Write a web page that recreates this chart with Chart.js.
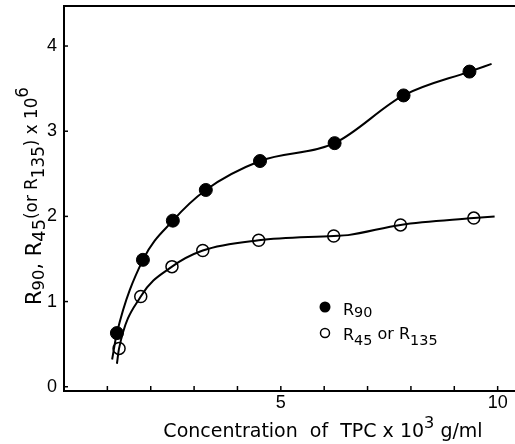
<!DOCTYPE html>
<html>
<head>
<meta charset="utf-8">
<script src="https://cdn.jsdelivr.net/npm/chart.js@4.4.1/dist/chart.umd.min.js"></script>
<style>
  html, body { margin: 0; padding: 0; background: #fff; }
  #wrap { width: 515px; height: 444px; }
</style>
</head>
<body>
<div id="wrap"><canvas id="c" width="515" height="444"></canvas></div>
<script>
// measured points
const r90X = [1.22, 1.82, 2.51, 3.27, 4.52, 6.24, 7.83, 9.35];
const r90Y = [0.63, 1.49, 1.95, 2.31, 2.65, 2.86, 3.42, 3.70];
const r45X = [1.27, 1.77, 2.49, 3.20, 4.49, 6.22, 7.76, 9.45];
const r45Y = [0.45, 1.06, 1.41, 1.60, 1.72, 1.77, 1.90, 1.98];

// hand-drawn smooth curves
const r90CurveX = [1.11, 1.22, 1.82, 2.51, 3.27, 4.52, 6.24, 7.83, 9.35, 9.86];
const r90CurveY = [0.32, 0.63, 1.49, 1.95, 2.31, 2.65, 2.86, 3.42, 3.70, 3.79];
const r45CurveX = [1.22, 1.27, 1.77, 2.49, 3.20, 4.49, 6.22, 6.55, 7.76, 9.45, 9.93];
const r45CurveY = [0.27, 0.45, 1.06, 1.41, 1.60, 1.72, 1.77, 1.78, 1.90, 1.98, 2.00];

const xTicks = [1, 2, 3, 4, 5, 6, 7, 8, 9, 10];
const xTickLabels = ['', '', '', '', '5', '', '', '', '', '10'];
const yTicks = [0, 1, 2, 3, 4];

const pts = (xs, ys) => xs.map((x, i) => ({ x: x, y: ys[i] }));

const FONT = '"Liberation Sans", "DejaVu Sans", sans-serif';
const TFONT = '"DejaVu Sans", sans-serif';

// text runs: k = size factor, d = baseline shift (fraction of size)
function richText(ctx, parts, x, y, size) {
    let cx = x;
    parts.forEach(p => {
        const fs = size * (p.k || 1);
        ctx.font = fs + 'px ' + TFONT;
        ctx.fillText(p.t, cx, y + size * (p.d || 0));
        cx += ctx.measureText(p.t).width;
    });
    return cx - x;
}
function richWidth(ctx, parts, size) {
    let w = 0;
    parts.forEach(p => {
        ctx.font = size * (p.k || 1) + 'px ' + TFONT;
        w += ctx.measureText(p.t).width;
    });
    return w;
}

const yTitle = [
    { t: 'R' }, { t: '90', k: 0.78, d: 0.12 }, { t: ', R' }, { t: '45', k: 0.85, d: 0.2 },
    { t: '(or R', k: 0.8, d: -0.2 }, { t: '135', k: 0.8, d: 0.12 }, { t: ') x 10', k: 0.8, d: -0.2 },
    { t: '6', k: 0.8, d: -0.6 }
];
const xTitle = [
    { t: 'Concentration  of  TPC x 10' }, { t: '3', k: 0.85, d: -0.45 }, { t: ' g/ml' }
];

const decor = {
    id: 'decor',
    afterDraw(chart) {
        const ctx = chart.ctx;
        const a = chart.chartArea;
        const xs = chart.scales.x;
        const ys = chart.scales.y;
        ctx.save();
        ctx.strokeStyle = '#000';
        ctx.fillStyle = '#000';
        // top frame line
        ctx.lineWidth = 2;
        ctx.beginPath();
        ctx.moveTo(a.left, a.top);
        ctx.lineTo(a.right, a.top);
        ctx.stroke();
        // inward ticks
        ctx.lineWidth = 1.5;
        xTicks.forEach(v => {
            const px = xs.getPixelForValue(v);
            ctx.beginPath();
            ctx.moveTo(px, a.bottom);
            ctx.lineTo(px, a.bottom - 5);
            ctx.stroke();
        });
        yTicks.forEach(v => {
            const py = ys.getPixelForValue(v);
            ctx.beginPath();
            ctx.moveTo(a.left, py);
            ctx.lineTo(a.left + 4, py);
            ctx.stroke();
        });
        ctx.textBaseline = 'alphabetic';
        // x title
        const xw = richWidth(ctx, xTitle, 19);
        richText(ctx, xTitle, 323 - xw / 2, 437, 19);
        // y title, rotated
        ctx.save();
        ctx.translate(41, 196);
        ctx.rotate(-Math.PI / 2);
        const yw = richWidth(ctx, yTitle, 21);
        richText(ctx, yTitle, -yw / 2, 0, 21);
        ctx.restore();
        // legend
        ctx.beginPath();
        ctx.arc(325, 307, 5.5, 0, Math.PI * 2);
        ctx.fill();
        ctx.beginPath();
        ctx.fillStyle = '#fff';
        ctx.lineWidth = 1.5;
        ctx.arc(325, 333, 4.5, 0, Math.PI * 2);
        ctx.fill();
        ctx.stroke();
        ctx.fillStyle = '#000';
        richText(ctx, [{ t: 'R' }, { t: '90', k: 0.9, d: 0.15 }], 343, 315, 16);
        richText(ctx, [{ t: 'R' }, { t: '45', k: 0.9, d: 0.3 }, { t: ' or R', d: -0.05 }, { t: '135', k: 0.9, d: 0.3 }], 343, 340, 16);
        ctx.restore();
    }
};

new Chart(document.getElementById('c'), {
    type: 'scatter',
    data: {
        datasets: [
            {
                label: 'R90 curve',
                data: pts(r90CurveX, r90CurveY),
                showLine: true,
                borderColor: '#000',
                borderWidth: 2,
                pointRadius: 0,
                cubicInterpolationMode: 'monotone'
            },
            {
                label: 'R45 curve',
                data: pts(r45CurveX, r45CurveY),
                showLine: true,
                borderColor: '#000',
                borderWidth: 2,
                pointRadius: 0,
                cubicInterpolationMode: 'monotone'
            },
            {
                label: 'R45 or R135',
                data: pts(r45X, r45Y),
                pointRadius: 6,
                pointBackgroundColor: '#fff',
                pointBorderColor: '#000',
                pointBorderWidth: 1.5
            },
            {
                label: 'R90',
                data: pts(r90X, r90Y),
                pointRadius: 6.5,
                pointBackgroundColor: '#000',
                pointBorderColor: '#000',
                pointBorderWidth: 1
            }
        ]
    },
    options: {
        responsive: false,
        animation: false,
        layout: { autoPadding: false, padding: { top: 6, right: 0, left: 0, bottom: 0 } },
        plugins: {
            legend: { display: false },
            tooltip: { enabled: false }
        },
        scales: {
            x: {
                type: 'linear',
                min: 0,
                max: 10.4,
                afterFit: s => {
                    s.height = 53;
                    s.paddingLeft = 0; s.paddingRight = 0;
                },
                afterBuildTicks: s => { s.ticks = xTicks.map(v => ({ value: v })); },
                grid: { display: false, drawTicks: false },
                border: { color: '#000', width: 2 },
                ticks: {
                    color: '#000',
                    padding: 1,
                    maxRotation: 0,
                    autoSkip: false,
                    font: { family: FONT, size: 18 },
                    callback: v => xTickLabels[xTicks.indexOf(v)] || ''
                }
            },
            y: {
                type: 'linear',
                min: -0.05,
                max: 4.47,
                afterFit: s => {
                    s.width = 64;
                    s.paddingTop = 0; s.paddingBottom = 0;
                },
                afterBuildTicks: s => { s.ticks = yTicks.map(v => ({ value: v })); },
                grid: { display: false, drawTicks: false },
                border: { color: '#000', width: 2 },
                ticks: {
                    color: '#000',
                    padding: 7,
                    font: { family: FONT, size: 18 },
                    callback: v => String(v)
                }
            }
        }
    },
    plugins: [decor]
});
</script>
</body>
</html>
